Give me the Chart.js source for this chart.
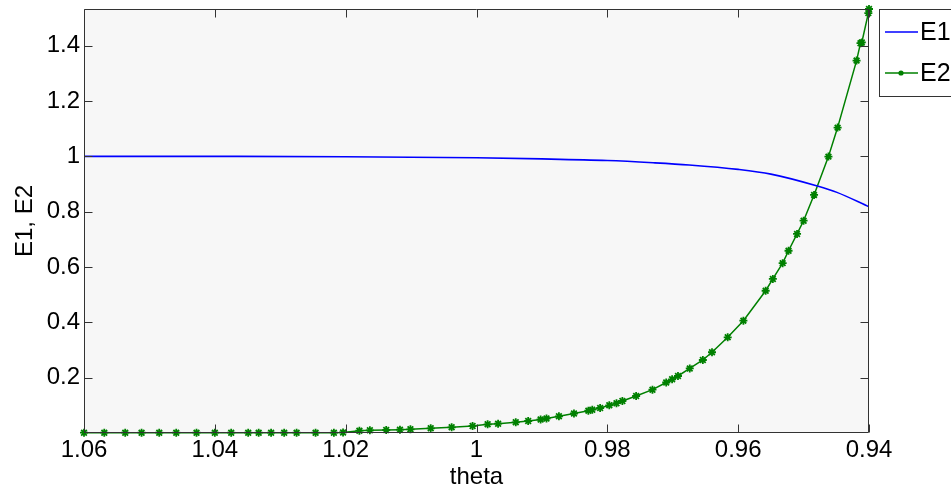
<!DOCTYPE html>
<html><head><meta charset="utf-8">
<script src="https://cdn.jsdelivr.net/npm/chart.js@4/dist/chart.umd.min.js"></script>
<style>html,body{margin:0;padding:0;background:#fff;overflow:hidden}#wrap{width:951px;height:489px;position:relative}</style>
</head><body><div id="wrap"><canvas id="c" width="951" height="489"></canvas></div>
<script>
const seriesNames = ['E1', 'E2'];
const theta1 = [1.06, 1.04, 1.02, 1.00, 0.99, 0.98, 0.973, 0.9675, 0.96, 0.955, 0.9479, 0.9449, 0.94];
const e1     = [1.000, 1.000, 0.999, 0.995, 0.991, 0.985, 0.977, 0.969, 0.953, 0.936, 0.893, 0.870, 0.818];
const theta2 = [1.06, 1.0569, 1.0537, 1.0512, 1.0485, 1.0459, 1.0428, 1.0400, 1.0375, 1.0349, 1.0333, 1.0314, 1.0294, 1.0275, 1.0246, 1.0218, 1.0204,
  1.0179, 1.0163, 1.0138, 1.0117, 1.0101, 1.0070, 1.0038, 1.0006, 0.9983, 0.9967, 0.9940, 0.9921, 0.9902, 0.9893, 0.9874, 0.9851,
  0.9829, 0.9823, 0.9811, 0.9797, 0.9786, 0.9777, 0.9756, 0.9731, 0.9710, 0.9701, 0.9692, 0.9674, 0.9654, 0.9640, 0.9616, 0.9592,
  0.9558, 0.9547, 0.9532, 0.9523, 0.9510, 0.9500, 0.9484, 0.9462, 0.9448, 0.9419, 0.9413, 0.9411, 0.9401, 0.9400];
const e2 = [0.001, 0.001, 0.001, 0.001, 0.001, 0.001, 0.001, 0.001, 0.001, 0.001, 0.001, 0.001, 0.001, 0.001, 0.001, 0.001, 0.002,
  0.0083, 0.0098, 0.0108, 0.0119, 0.0134, 0.0170, 0.0206, 0.0253, 0.0315, 0.0336, 0.0387, 0.0434, 0.0488, 0.0524, 0.0604, 0.0705,
  0.0807, 0.0843, 0.0904, 0.1002, 0.1078, 0.1157, 0.1338, 0.1566, 0.1826, 0.1942, 0.2061, 0.2333, 0.2640, 0.2919, 0.3461, 0.4061,
  0.5143, 0.5570, 0.6141, 0.6590, 0.7197, 0.7675, 0.8608, 0.9993, 1.1042, 1.3465, 1.4094, 1.4120, 1.518, 1.533];
const xTicks = [1.06, 1.04, 1.02, 1, 0.98, 0.96, 0.94];
const xTickLabels = ['1.06', '1.04', '1.02', '1', '0.98', '0.96', '0.94'];
const yTicks = [0.2, 0.4, 0.6, 0.8, 1, 1.2, 1.4];
const yTickLabels = ['0.2', '0.4', '0.6', '0.8', '1', '1.2', '1.4'];
const xLabel = 'theta';
const yLabel = 'E1, E2';

const FONT = '"Liberation Sans", Arial, sans-serif';
const colors = ['#0000ff', '#008000'];

const framePlugin = {
  id: 'frame',
  beforeDatasetsDraw(chart) {
    const {ctx, chartArea: a} = chart;
    ctx.save();
    ctx.fillStyle = '#f7f7f7';
    ctx.fillRect(a.left, a.top, a.right - a.left, a.bottom - a.top);
    ctx.restore();
  },
  afterDraw(chart) {
    const {ctx, chartArea: a, scales} = chart;
    const xs = scales.x, ys = scales.y;
    ctx.save();
    ctx.strokeStyle = '#333333';
    ctx.lineWidth = 1;
    const L = Math.round(a.left) + 0.5, R = Math.round(a.right) - 0.5, T = Math.round(a.top) + 0.5, B = Math.round(a.bottom) - 0.5;
    ctx.beginPath();
    ctx.rect(L, T, R - L, B - T);
    ctx.stroke();
    const tl = 8;
    ctx.beginPath();
    xTicks.forEach(v => {
      const p = Math.round(xs.getPixelForValue(v)) + 0.5;
      ctx.moveTo(p, B); ctx.lineTo(p, B - tl);
      ctx.moveTo(p, T); ctx.lineTo(p, T + tl);
    });
    yTicks.forEach(v => {
      const p = Math.round(ys.getPixelForValue(v)) + 0.5;
      ctx.moveTo(L, p); ctx.lineTo(L + tl, p);
      ctx.moveTo(R, p); ctx.lineTo(R - tl, p);
    });
    ctx.stroke();

    // legend box
    const lx = 879.5, ly = 9.5, lw = 90, lh = 87;
    ctx.fillStyle = '#ffffff';
    ctx.fillRect(lx, ly, lw, lh);
    ctx.strokeStyle = '#333333';
    ctx.strokeRect(lx, ly, lw, lh);
    const rows = [32, 73];
    ctx.font = '25px ' + FONT;
    ctx.textBaseline = 'middle';
    ctx.textAlign = 'left';
    seriesNames.forEach((name, i) => {
      const yy = rows[i];
      ctx.strokeStyle = colors[i];
      ctx.lineWidth = 1.5;
      ctx.beginPath();
      ctx.moveTo(885, yy); ctx.lineTo(918, yy);
      ctx.stroke();
      if (i === 1) {
        ctx.fillStyle = colors[i];
        ctx.beginPath();
        ctx.arc(901, yy, 2.6, 0, Math.PI * 2);
        ctx.fill();
      }
      ctx.fillStyle = '#000000';
      ctx.fillText(name, 920, yy + 1);
    });
    ctx.restore();
  }
};

new Chart(document.getElementById('c'), {
  type: 'line',
  data: {
    datasets: [
      {
        label: seriesNames[0],
        data: theta1.map((t, i) => ({x: t, y: e1[i]})),
        borderColor: colors[0],
        backgroundColor: colors[0],
        borderWidth: 1.6,
        pointRadius: 0,
        cubicInterpolationMode: 'monotone',
        fill: false
      },
      {
        label: seriesNames[1],
        data: theta2.map((t, i) => ({x: t, y: e2[i]})),
        borderColor: colors[1],
        backgroundColor: colors[1],
        borderWidth: 1.5,
        pointStyle: 'star',
        pointRadius: 4,
        pointBorderWidth: 1.8,
        pointBorderColor: colors[1],
        pointBackgroundColor: colors[1],
        tension: 0,
        fill: false,
        clip: 6
      }
    ]
  },
  options: {
    responsive: false,
    animation: false,
    devicePixelRatio: 1,
    layout: {padding: {top: 9, right: 82, left: 0, bottom: 0}},
    plugins: {legend: {display: false}, tooltip: {enabled: false}},
    scales: {
      x: {
        type: 'linear',
        reverse: true,
        min: 0.94, max: 1.06,
        grid: {display: false, drawTicks: false},
        border: {display: false},
        afterBuildTicks: s => { s.ticks = xTicks.map(v => ({value: v})); },
        afterFit: s => { s.height = 56; s.paddingLeft = 0; s.paddingRight = 0; s.paddingTop = 0; s.paddingBottom = 0; },
        ticks: {
          autoSkip: false, maxRotation: 0, padding: 3,
          color: '#000', font: {family: FONT, size: 24},
          callback: (v) => { const i = xTicks.findIndex(t => Math.abs(t - v) < 1e-9); return i >= 0 ? xTickLabels[i] : ''; }
        },
        title: {display: true, text: xLabel, color: '#000', font: {family: FONT, size: 24, lineHeight: 1}, padding: {top: 0, bottom: 0}}
      },
      y: {
        type: 'linear',
        min: 0, max: 1.533,
        grid: {display: false, drawTicks: false},
        border: {display: false},
        afterBuildTicks: s => { s.ticks = yTicks.map(v => ({value: v})); },
        afterFit: s => { s.width = 84; s.paddingLeft = 0; s.paddingRight = 0; s.paddingTop = 0; s.paddingBottom = 0; },
        ticks: {
          autoSkip: false, padding: 4,
          color: '#000', font: {family: FONT, size: 24},
          callback: (v) => { const i = yTicks.findIndex(t => Math.abs(t - v) < 1e-9); return i >= 0 ? yTickLabels[i] : ''; }
        },
        title: {display: true, text: yLabel, color: '#000', font: {family: FONT, size: 24, lineHeight: 1}, padding: {top: 13, bottom: 0}}
      }
    }
  },
  plugins: [framePlugin]
});
</script>
</body></html>
